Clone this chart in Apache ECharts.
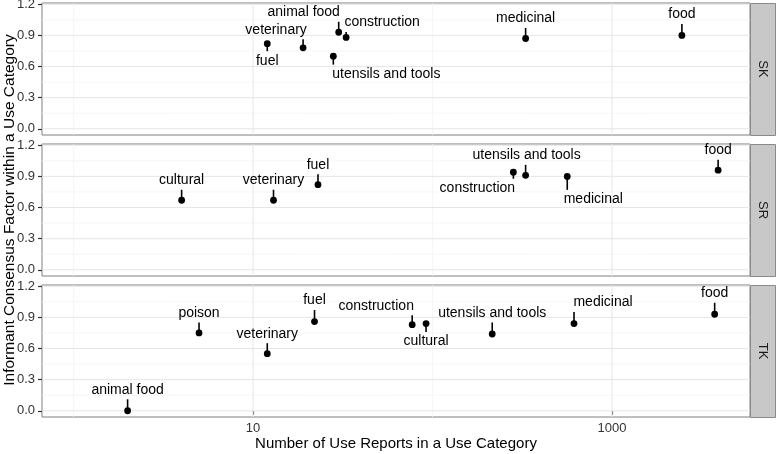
<!DOCTYPE html>
<html><head><meta charset="utf-8">
<script src="https://cdn.jsdelivr.net/npm/echarts@6/dist/echarts.min.js"></script>
<style>html,body{margin:0;padding:0;background:#fff}#c{width:776px;height:454px}</style>
</head><body><div id="c"></div>
<script>
// ---------- data ----------
const panelNames = ['SK', 'SR', 'TK'];

const skCategories = ['fuel', 'veterinary', 'utensils and tools', 'animal food', 'construction', 'medicinal', 'food'];
const skUseReports = [12, 19, 28, 30, 33, 330, 2450];
const skICF = [0.82, 0.78, 0.70, 0.93, 0.88, 0.87, 0.90];

const srCategories = ['cultural', 'veterinary', 'fuel', 'construction', 'utensils and tools', 'medicinal', 'food'];
const srUseReports = [4, 13, 23, 282, 330, 563, 3900];
const srICF = [0.67, 0.67, 0.82, 0.94, 0.91, 0.90, 0.96];

const tkCategories = ['animal food', 'poison', 'veterinary', 'fuel', 'construction', 'cultural', 'utensils and tools', 'medicinal', 'food'];
const tkUseReports = [2, 5, 12, 22, 77, 92, 215, 614, 3730];
const tkICF = [0.0, 0.75, 0.55, 0.86, 0.83, 0.84, 0.74, 0.84, 0.93];

const xTickValues = [10, 1000];
const xMinorValues = [1, 100];
const yTickValues = [0, 0.3, 0.6, 0.9, 1.2];
const yMinorValues = [0.15, 0.45, 0.75, 1.05];

// ---------- label layout (pixel offsets of text from point, like ggrepel) ----------
const skLabelOffsets = [[0, 17], [-27, -18], [53, 18], [-35, -20], [36, -15], [0, -20], [0, -21]];
const srLabelOffsets = [[0, -20], [0, -20], [0, -20], [-36, 16], [1, -20], [26, 23], [0, -20]];
const tkLabelOffsets = [[0, -21], [0, -20], [0, -20], [0, -21], [-36, -19], [0, 18], [0, -21], [29, -21], [0, -21]];

// ---------- chart ----------
const FONT = '"Liberation Sans", Arial, Helvetica, sans-serif';
const panelTops = [3, 144, 285];
const panelH = 132, panelL = 42, panelW = 708;
const X_MIN = 0.667, X_MAX = 5870, Y_MIN = -0.06, Y_MAX = 1.212;

const grids = [], xAxes = [], yAxes = [], series = [];
const panelData = [
  [skCategories, skUseReports, skICF, skLabelOffsets],
  [srCategories, srUseReports, srICF, srLabelOffsets],
  [tkCategories, tkUseReports, tkICF, tkLabelOffsets]
];

function gridLineSeries(gi, values, dim, color, width) {
  return {
    type: 'custom', xAxisIndex: gi, yAxisIndex: gi, silent: true, z: 1,
    data: values.map(v => dim === 'x' ? [v, 0.5] : [1, v]),
    renderItem: (params, api) => {
      const cs = params.coordSys;
      const p = api.coord([api.value(0), api.value(1)]);
      const shape = dim === 'x'
        ? { x1: p[0], y1: cs.y, x2: p[0], y2: cs.y + cs.height }
        : { x1: cs.x, y1: p[1], x2: cs.x + cs.width, y2: p[1] };
      return { type: 'line', shape, style: { stroke: color, lineWidth: width } };
    }
  };
}

function pointSeries(gi, cats, uses, icf, offs) {
  return {
    type: 'custom', xAxisIndex: gi, yAxisIndex: gi, z: 10, clip: false,
    data: uses.map((u, i) => [u, icf[i]]),
    renderItem: (params, api) => {
      const i = params.dataIndex;
      const p = api.coord([api.value(0), api.value(1)]);
      const dx = offs[i][0], dy = offs[i][1];
      const lx = p[0] + dx, ly = p[1] + dy;
      const children = [];
      if (Math.abs(dy) > 10) {
        const endY = ly - Math.sign(dy) * 9.5;
        children.push({ type: 'line', shape: { x1: p[0], y1: p[1], x2: p[0], y2: endY },
          style: { stroke: '#000', lineWidth: 1.6 } });
      }
      children.push({ type: 'circle', shape: { cx: p[0], cy: p[1], r: 3.4 }, style: { fill: '#000' } });
      children.push({ type: 'text', x: lx, y: ly,
        style: { text: cats[i], fill: '#000', font: '14px ' + FONT, align: 'center', verticalAlign: 'middle' } });
      return { type: 'group', children };
    }
  };
}

const graphics = [];
panelNames.forEach((name, gi) => {
  const top = panelTops[gi];
  grids.push({ left: panelL, top: top, width: panelW, height: panelH, show: true,
    borderColor: '#7f7f7f', borderWidth: 1, backgroundColor: '#fff',
    containLabel: false, outerBoundsMode: 'none' });
  const isBottom = gi === panelNames.length - 1;
  xAxes.push({
    type: 'log', logBase: 10, gridIndex: gi, min: X_MIN, max: X_MAX,
    axisLine: { show: false },
    splitLine: { show: false }, minorSplitLine: { show: false },
    axisTick: { show: isBottom, customValues: xTickValues, length: 4, lineStyle: { color: '#333', width: 1.2 } },
    axisLabel: { show: isBottom, customValues: xTickValues, margin: 5, color: '#333', fontSize: 13, fontFamily: FONT,
      formatter: v => String(Math.round(v)) },
    name: isBottom ? 'Number of Use Reports in a Use Category' : '',
    nameLocation: 'middle', nameGap: 18,
    nameTextStyle: { fontSize: 15, color: '#000', fontFamily: FONT, verticalAlign: 'top' }
  });
  yAxes.push({
    type: 'value', gridIndex: gi, min: Y_MIN, max: Y_MAX,
    axisLine: { show: false },
    splitLine: { show: false },
    axisTick: { show: true, customValues: yTickValues, length: 4, lineStyle: { color: '#333', width: 1.2 } },
    axisLabel: { customValues: yTickValues, margin: 7, color: '#333', fontSize: 13, fontFamily: FONT,
      formatter: v => v.toFixed(1) },
    name: gi === 1 ? 'Informant Consensus Factor within a Use Category' : '',
    nameLocation: 'middle', nameRotate: 90, nameGap: 24, nameMoveOverlap: false,
    nameTextStyle: { fontSize: 15.5, color: '#000', fontFamily: FONT, verticalAlign: 'bottom' }
  });
  series.push(gridLineSeries(gi, xMinorValues, 'x', '#f4f4f4', 0.8));
  series.push(gridLineSeries(gi, yMinorValues, 'y', '#f4f4f4', 0.8));
  series.push(gridLineSeries(gi, xTickValues, 'x', '#e6e6e6', 1));
  series.push(gridLineSeries(gi, yTickValues, 'y', '#e6e6e6', 1));
  const d = panelData[gi];
  series.push(pointSeries(gi, d[0], d[1], d[2], d[3]));

  graphics.push({ type: 'rect', left: panelL + panelW, top: top,
    shape: { width: 25, height: panelH }, style: { fill: '#c8c8c8', stroke: '#8a8a8a', lineWidth: 1 } });
  graphics.push({ type: 'text', x: panelL + panelW + 12.5, y: top + panelH / 2, rotation: -Math.PI / 2,
    style: { text: name, fill: '#1a1a1a', font: '13px ' + FONT, align: 'center', verticalAlign: 'middle' } });
});

const chart = echarts.init(document.getElementById('c'), null, { renderer: 'canvas' });
chart.setOption({
  animation: false,
  backgroundColor: '#fff',
  grid: grids, xAxis: xAxes, yAxis: yAxes, series: series,
  graphic: graphics
});
</script>
</body></html>
